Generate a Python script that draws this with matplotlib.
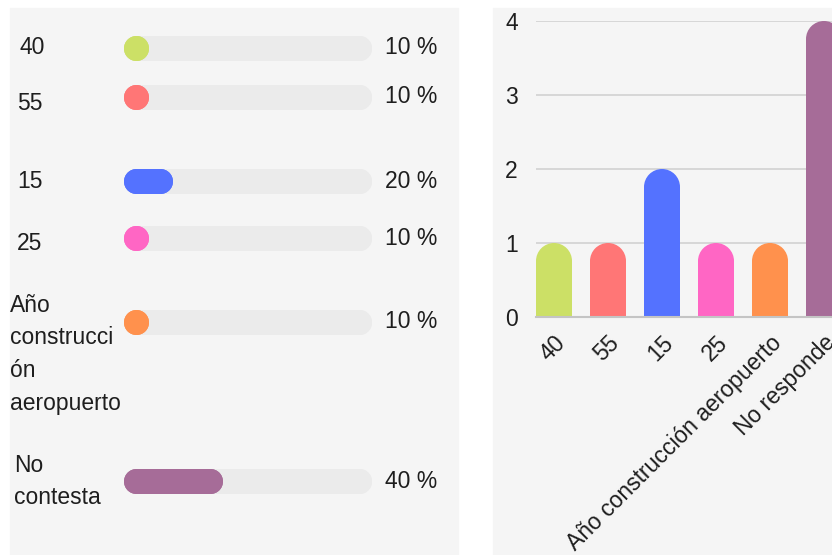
import matplotlib.pyplot as plt
from matplotlib.patches import Rectangle, Ellipse
from matplotlib.transforms import ScaledTranslation

plt.rcParams['font.family'] = ['Liberation Sans', 'DejaVu Sans']

# respuestas
row_labels = ["40", "55", "15", "25", "Año\nconstrucci\nón\naeropuerto", "No\ncontesta"]
bar_labels = ["40", "55", "15", "25", "Año construcción aeropuerto", "No responde"]
percents = [10, 10, 20, 10, 10, 40]
counts = [1, 1, 2, 1, 1, 4]
colors = ["#cce066", "#ff7676", "#5472ff", "#ff66c4", "#ff914d", "#a66c98"]

W, H = 832, 555
BG = "#f5f5f5"
TXT = "#1e1e1e"
FS = 16.5

fig = plt.figure(figsize=(W / 100, H / 100), dpi=100)


def fx(px):
    return px / W


def fy(py):
    return 1 - py / H


# panel backgrounds
for x0, x1 in [(10, 458), (493, 842)]:
    fig.patches.append(Rectangle((fx(x0), fy(555)), (x1 - x0) / W, (555 - 8) / H,
                                 transform=fig.transFigure, color=BG, zorder=-5))

# ---- left: percentage bars ----
track_l, track_r = 123, 371
ax_l = fig.add_axes([fx(track_l), fy(555), (track_r - track_l) / W, (555 - 8) / H])
ax_l.set_xlim(0, 100)
ax_l.set_ylim(555, 8)
ax_l.axis("off")
ax_l.patch.set_alpha(0)

row_y = [47.5, 96.5, 181, 238, 322, 481]
label_pos = [(20, 48), (17, 103), (17, 182), (17, 243), (10, 305), (14, 466)]
line_step = [32, 32, 32, 32, 32.7, 31]

lw_px = 25
lw_pt = lw_px * 72 / 100
r = (lw_px / 2) / ((track_r - track_l) / 100)


def pill(ax, x0, x1, y, col):
    # line with round ends; markers keep short segments visible
    x1 = max(x1, x0)
    ax.plot([x0, x1], [y, y], color=col, lw=lw_pt, solid_capstyle="round",
            marker="o", ms=lw_pt, mew=0, clip_on=False)


for i, (lab, pct, col) in enumerate(zip(row_labels, percents, colors)):
    y = row_y[i]
    pill(ax_l, r, 100 - r, y, "#ebebeb")
    pill(ax_l, r, pct - r, y, col)
    fig.text(fx(437), fy(y), f"{pct} %", ha="right", va="center",
             fontsize=FS, color=TXT)
    lx, ly = label_pos[i]
    for j, part in enumerate(lab.split("\n")):
        fig.text(fx(lx), fy(ly + j * line_step[i]), part, ha="left", va="center",
                 fontsize=FS, color=TXT)

# ---- right: counts column chart ----
ax_r = fig.add_axes([fx(536), fy(317), (842 - 536) / W, (317 - 21) / H])
bw = 2 / 3
ax_r.set_xlim(-bw / 2, len(counts) - 1 + bw / 2)
ax_r.set_ylim(0, 4)
ax_r.patch.set_alpha(0)

px_x = (842 - 536) / (len(counts) - 1 + bw)
px_y = (317 - 21) / 4
rh = (bw / 2) * px_x / px_y

xs = list(range(len(counts)))
for x, v, col in zip(xs, counts, colors):
    ax_r.bar(x, v - rh, width=bw, color=col, lw=0, zorder=2)
    ax_r.add_patch(Ellipse((x, v - rh), bw, 2 * rh, facecolor=col, lw=0, zorder=2))

ax_r.set_yticks([0, 1, 2, 3, 4])
ax_r.yaxis.grid(True, color="#d2d2d2", lw=1.2)
ax_r.set_axisbelow(True)
for s in ["left", "right", "top"]:
    ax_r.spines[s].set_visible(False)
ax_r.spines["bottom"].set_color("#c4c4c4")
ax_r.spines["bottom"].set_linewidth(1.5)
ax_r.spines["bottom"].set_zorder(3)
ax_r.tick_params(axis="y", length=0, pad=13, labelsize=FS, labelcolor=TXT)
ax_r.tick_params(axis="x", length=0, pad=16, labelsize=FS, labelcolor=TXT)
ax_r.set_xticks(xs)
ax_r.set_xticklabels(bar_labels, rotation=45, ha="right", va="center",
                     rotation_mode="anchor")
shift = ScaledTranslation(8 / 100, 0, fig.dpi_scale_trans)
for t in ax_r.get_xticklabels():
    t.set_transform(t.get_transform() + shift)

fig.savefig("out.png", dpi=100)
